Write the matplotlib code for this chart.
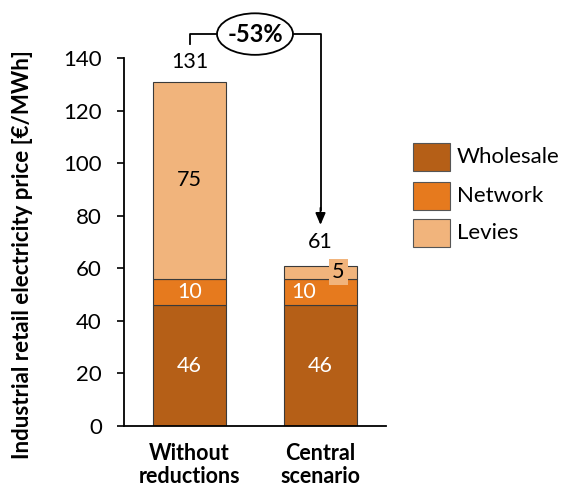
import matplotlib
matplotlib.use("Agg")
import matplotlib.pyplot as plt
from matplotlib.patches import Ellipse, Rectangle

plt.rcParams['font.family'] = ['Lato', 'DejaVu Sans']

categories = ["Without\nreductions", "Central\nscenario"]
components = ["Wholesale", "Network", "Levies"]
wholesale = [46, 46]
network = [10, 10]
levies = [75, 5]
totals = [131, 61]
change_label = "-53%"

colors = {"Wholesale": "#B55F17", "Network": "#E67A1E", "Levies": "#F1B47C"}
edge = "#3a3a3a"

W, H = 565, 491
fig = plt.figure(figsize=(W / 100, H / 100), dpi=100)
ax = fig.add_axes([124 / W, 1 - 426 / H, 262 / W, 368 / H])

x = [0, 1]
width = 0.56
series = [wholesale, network, levies]
bottoms = [0, 0]
for name, vals in zip(components, series):
    ax.bar(x, vals, width, bottom=bottoms, color=colors[name],
           edgecolor=edge, linewidth=0.8, zorder=2)
    bottoms = [b + v for b, v in zip(bottoms, vals)]

fs = 15.5
# segment value labels
ax.text(0, wholesale[0] / 2, str(wholesale[0]), ha="center", va="center", color="white", fontsize=fs)
ax.text(1, wholesale[1] / 2, str(wholesale[1]), ha="center", va="center", color="white", fontsize=fs)
ax.text(0, wholesale[0] + network[0] / 2, str(network[0]), ha="center", va="center", color="white", fontsize=fs)
ax.text(0.87, wholesale[1] + network[1] / 2, str(network[1]), ha="center", va="center", color="white", fontsize=fs)
ax.text(0, wholesale[0] + network[0] + levies[0] / 2, str(levies[0]), ha="center", va="center",
        color="black", fontsize=fs)
ax.text(1.134, wholesale[1] + network[1] + levies[1] - 2.4, str(levies[1]), ha="center", va="center",
        color="black", fontsize=fs, zorder=4,
        bbox=dict(boxstyle="square,pad=0.15", facecolor=colors["Levies"], edgecolor="none"))

# totals above bars
ax.annotate(str(totals[0]), (0, totals[0]), xytext=(0, 7), textcoords="offset points",
            ha="center", va="bottom", fontsize=fs)
ax.annotate(str(totals[1]), (1, totals[1]), xytext=(0, 10), textcoords="offset points",
            ha="center", va="bottom", fontsize=fs)

# bracket arrow showing the relative change
y_top = 149.1
ax.plot([0, 0, 0.2], [145.3, y_top, y_top], color="black", lw=1.3, clip_on=False)
ax.plot([0.8, 1.0, 1.0], [y_top, y_top, 82], color="black", lw=1.3, clip_on=False)
ax.annotate("", xy=(1.0, 76.5), xytext=(1.0, 83),
            arrowprops=dict(arrowstyle="-|>,head_length=0.7,head_width=0.3", color="black", lw=1.3,
                            shrinkA=0, shrinkB=0), annotation_clip=False)
ell = Ellipse((0.5, y_top), width=0.58, height=15.8, facecolor="white", edgecolor="black",
              lw=1.3, clip_on=False, zorder=5)
ax.add_patch(ell)
ax.text(0.5, y_top, change_label, ha="center", va="center", fontsize=17, fontweight="bold",
        zorder=6, clip_on=False)

ax.set_xlim(-0.5, 1.5)
ax.set_ylim(0, 140)
ax.set_yticks(range(0, 141, 20))
ax.set_xticks(x)
ax.set_xticklabels(categories, fontsize=fs, fontweight="bold", linespacing=1.15)
ax.tick_params(axis="x", length=0, pad=12)
ax.tick_params(axis="y", labelsize=16, length=5, width=1.2, pad=11)
for s in ["top", "right"]:
    ax.spines[s].set_visible(False)
for s in ["left", "bottom"]:
    ax.spines[s].set_linewidth(1.3)
ax.set_ylabel("Industrial retail electricity price [€/MWh]", fontsize=16, fontweight="bold")
ax.yaxis.set_label_coords(-0.347, 0.465)

# legend boxes
tops = [143, 182, 219]
for name, top in zip(components, tops):
    fig.add_artist(Rectangle((413 / W, 1 - (top + 28) / H), 37 / W, 28 / H, transform=fig.transFigure,
                             facecolor=colors[name], edgecolor="#555555", linewidth=0.8))
    fig.text(457 / W, 1 - (top + 14) / H, name, ha="left", va="center", fontsize=16)

fig.savefig("out.png", dpi=100)
